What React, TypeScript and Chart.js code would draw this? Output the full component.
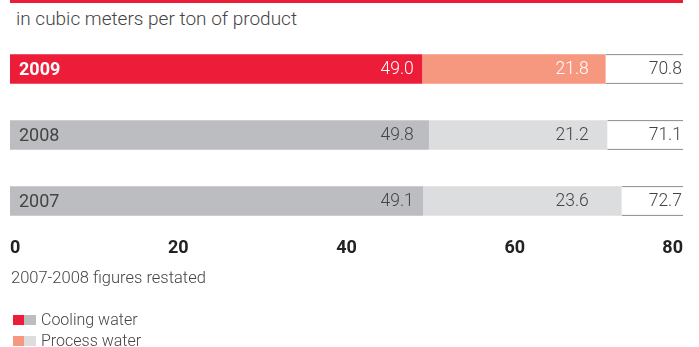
import React, { useEffect, useRef } from "react";
import { Chart, registerables } from "chart.js";

Chart.register(...registerables);

const categories = ["2009", "2008", "2007"];
const coolingWater = [49.0, 49.8, 49.1];
const processWater = [21.8, 21.2, 23.6];
const totals = [70.8, 71.1, 72.7];
const tickValues = [0, 20, 40, 60, 80];
const AXIS_MIN = 0;
const AXIS_MAX = 80;
const HIGHLIGHT_INDEX = 0;
// value anchors (in axis units) where the right-aligned segment labels sit
const COOLING_LABEL_AT = 48.0;
const PROCESS_LABEL_AT = 68.8;

const RED = "#ED1C38";
const SALMON = "#F6977F";
const GREY = "#BCBDC0";
const LIGHT_GREY = "#DCDDDF";
const TEXT = "#444444";
const FONT = "Roboto, 'Liberation Sans', sans-serif";

const labelsPlugin = {
  id: "segmentLabels",
  afterDatasetsDraw(chart: any) {
    const ctx = chart.ctx;
    const xs = chart.scales.x;
    const area = chart.chartArea;
    const meta = chart.getDatasetMeta(0);
    ctx.save();
    ctx.textBaseline = "middle";
    categories.forEach((cat, i) => {
      const y = meta.data[i].y + 1;
      const hi = i === HIGHLIGHT_INDEX;
      // year label
      ctx.textAlign = "left";
      ctx.fillStyle = hi ? "#ffffff" : TEXT;
      ctx.font = `${hi ? "bold" : "normal"} 18px ${FONT}`;
      ctx.fillText(cat, area.left + 9, y);
      // values
      ctx.font = `300 17.5px ${FONT}`;
      ctx.textAlign = "right";
      ctx.fillStyle = hi ? "#ffffff" : TEXT;
      ctx.fillText(coolingWater[i].toFixed(1), xs.getPixelForValue(COOLING_LABEL_AT), y);
      ctx.fillText(processWater[i].toFixed(1), xs.getPixelForValue(PROCESS_LABEL_AT), y);
      ctx.fillStyle = TEXT;
      ctx.fillText(totals[i].toFixed(1), area.right - 1, y);
    });
    ctx.restore();
  },
};

function BarChart() {
  const ref = useRef<HTMLCanvasElement | null>(null);
  useEffect(() => {
    if (!ref.current) return;
    const chart = new Chart(ref.current, {
      type: "bar",
      data: {
        labels: categories,
        datasets: [
          {
            label: "Cooling water",
            data: coolingWater,
            backgroundColor: categories.map((_, i) => (i === HIGHLIGHT_INDEX ? RED : GREY)),
            borderWidth: 0,
          },
          {
            label: "Process water",
            data: processWater,
            backgroundColor: categories.map((_, i) => (i === HIGHLIGHT_INDEX ? SALMON : LIGHT_GREY)),
            borderWidth: 0,
          },
          {
            label: "Total",
            data: coolingWater.map((c, i) => AXIS_MAX - c - processWater[i]),
            backgroundColor: "#ffffff",
            borderColor: "#4a4a4a",
            borderWidth: { top: 1, bottom: 1, left: 0, right: 0 },
            borderSkipped: false,
          },
        ],
      },
      options: {
        indexAxis: "y",
        animation: false,
        responsive: false,
        maintainAspectRatio: false,
        events: [],
        datasets: { bar: { barPercentage: 0.45, categoryPercentage: 1 } },
        layout: { padding: { left: 10, right: 16, top: 6, bottom: 0 } },
        plugins: { legend: { display: false }, tooltip: { enabled: false }, title: { display: false } },
        scales: {
          x: {
            stacked: true,
            min: AXIS_MIN,
            max: AXIS_MAX,
            afterBuildTicks: (scale: any) => {
              scale.ticks = tickValues.map((v) => ({ value: v }));
            },
            afterFit: (scale: any) => {
              scale.height = 36;
            },
            grid: { display: false, drawTicks: false },
            border: { display: false },
            ticks: {
              align: "inner",
              padding: 4,
              color: "#222222",
              font: { family: FONT, size: 18, weight: "bold" },
            },
          },
          y: {
            stacked: true,
            display: false,
          },
        },
      },
      plugins: [labelsPlugin],
    });
    return () => chart.destroy();
  }, []);
  return <canvas ref={ref} width={699} height={240} style={{ position: "absolute", left: 0, top: 30, width: 699, height: 240 }} />;
}

export default function App() {
  const legend = [
    { label: "Cooling water", colors: [RED, GREY] },
    { label: "Process water", colors: [SALMON, LIGHT_GREY] },
  ];
  return (
    <div style={{ position: "absolute", left: 0, top: 0, width: 699, height: 347, background: "#fff", overflow: "hidden", fontFamily: FONT, color: TEXT }}>
      <div style={{ position: "absolute", left: 10, top: 0, width: 673, height: 2.5, background: RED }} />
      <div style={{ position: "absolute", left: 16, top: 8, fontSize: 19, lineHeight: "22px", fontWeight: 300 }}>
        in cubic meters per ton of product
      </div>
      <BarChart />
      <div style={{ position: "absolute", left: 11, top: 268, fontSize: 16.5, lineHeight: "20px", fontWeight: 300 }}>
        2007-2008 figures restated
      </div>
      {legend.map((item, i) => (
        <div key={item.label} style={{ position: "absolute", left: 13, top: 310 + i * 21, display: "flex", alignItems: "center", height: 20 }}>
          <span style={{ display: "inline-block", width: 11, height: 10, background: item.colors[0] }} />
          <span style={{ display: "inline-block", width: 12, height: 10, background: item.colors[1] }} />
          <span style={{ marginLeft: 5, fontSize: 16, lineHeight: "20px", fontWeight: 300 }}>{item.label}</span>
        </div>
      ))}
    </div>
  );
}
